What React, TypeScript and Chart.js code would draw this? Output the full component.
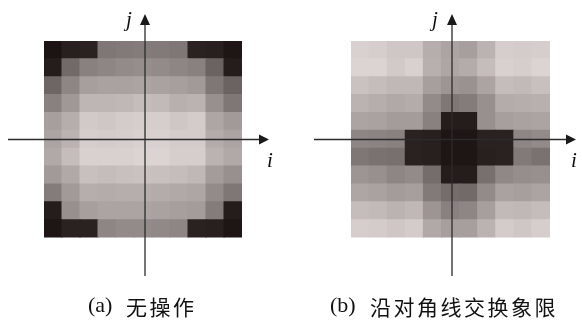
import React, { useEffect, useRef } from "react";
import { Chart, registerables } from "chart.js";

Chart.register(...registerables);

// Column categories (i index) and row labels (j index)
const COLUMNS = ["0", "1", "2", "3", "4", "5", "6", "7", "8", "9", "10"];

// Gray levels (0 = black, 255 = white), rows listed top to bottom
const GRID_A: number[][] = [
  [26, 38, 40, 125, 128, 130, 128, 125, 40, 38, 28],
  [35, 112, 135, 140, 145, 148, 145, 140, 135, 105, 35],
  [108, 140, 165, 168, 168, 170, 168, 165, 160, 125, 105],
  [135, 158, 188, 188, 190, 195, 192, 182, 185, 150, 125],
  [165, 180, 208, 205, 210, 212, 212, 205, 210, 172, 160],
  [170, 185, 212, 210, 212, 215, 215, 210, 210, 178, 170],
  [175, 195, 215, 215, 215, 218, 218, 212, 212, 185, 175],
  [160, 175, 198, 195, 198, 200, 198, 195, 190, 162, 150],
  [130, 160, 180, 178, 180, 180, 178, 175, 172, 145, 125],
  [35, 150, 165, 170, 170, 170, 168, 165, 162, 130, 35],
  [28, 40, 40, 140, 145, 145, 143, 140, 40, 38, 28],
];

const GRID_B: number[][] = [
  [215, 212, 205, 205, 180, 170, 165, 185, 212, 210, 212],
  [218, 218, 208, 215, 182, 172, 178, 195, 215, 212, 218],
  [200, 195, 190, 190, 165, 155, 152, 170, 195, 192, 198],
  [185, 180, 175, 178, 145, 125, 130, 150, 178, 180, 182],
  [170, 168, 162, 162, 135, 35, 35, 150, 165, 168, 170],
  [140, 138, 135, 40, 38, 28, 28, 40, 40, 140, 145],
  [125, 120, 118, 40, 38, 28, 28, 38, 40, 128, 120],
  [155, 150, 140, 145, 115, 35, 35, 118, 142, 148, 150],
  [172, 168, 162, 165, 128, 115, 112, 145, 168, 165, 170],
  [195, 192, 185, 190, 155, 135, 140, 165, 192, 190, 195],
  [212, 210, 205, 210, 175, 165, 165, 185, 210, 205, 212],
];

const CAPTION_A_TAG = "(a)";
const CAPTION_A_TEXT = "无操作";
const CAPTION_B_TAG = "(b)";
const CAPTION_B_TEXT = "沿对角线交换象限";

const clamp = (v: number) => Math.max(0, Math.min(255, Math.round(v)));
const toColor = (v: number) => `rgb(${clamp(v + 2)},${clamp(v - 6)},${clamp(v - 7)})`;

type PanelSpec = {
  grid: number[][];
  padding: { left: number; right: number; top: number; bottom: number };
  vx: number;
  hy: number;
  hx0: number;
  hxTip: number;
  vyTip: number;
  vyEnd: number;
  jx: number;
  ix: number;
  tag: string;
  text: string;
  tagX: number;
  textX: number;
};

const PANELS: PanelSpec[] = [
  {
    grid: GRID_A,
    padding: { left: 44, right: 49, top: 41, bottom: 82.5 },
    vx: 145,
    hy: 139.5,
    hx0: 8,
    hxTip: 269,
    vyTip: 14,
    vyEnd: 276,
    jx: 129,
    ix: 270,
    tag: CAPTION_A_TAG,
    text: CAPTION_A_TEXT,
    tagX: 88,
    textX: 126,
  },
  {
    grid: GRID_B,
    padding: { left: 60, right: 32, top: 41, bottom: 82.5 },
    vx: 161,
    hy: 139.5,
    hx0: 23,
    hxTip: 285,
    vyTip: 14,
    vyEnd: 276,
    jx: 144,
    ix: 283,
    tag: CAPTION_B_TAG,
    text: CAPTION_B_TEXT,
    tagX: 39,
    textX: 79,
  },
];

function Panel({ spec, left }: { spec: PanelSpec; left: number }) {
  const ref = useRef<HTMLCanvasElement | null>(null);
  useEffect(() => {
    if (!ref.current) return;
    const rowsBottomUp = [...spec.grid].reverse();
    const datasets = rowsBottomUp.map((row, r) => ({
      label: `row${r}`,
      data: row.map(() => 1),
      backgroundColor: row.map(toColor),
      borderWidth: 0,
      barPercentage: 1,
      categoryPercentage: 1,
      inflateAmount: 0.5,
    }));

    const overlay = {
      id: "overlay",
      afterDraw(chart: any) {
        const ctx = chart.ctx as CanvasRenderingContext2D;
        ctx.save();
        ctx.strokeStyle = "#2b2b2b";
        ctx.fillStyle = "#1a1a1a";
        ctx.lineWidth = 1.3;
        // horizontal axis
        ctx.beginPath();
        ctx.moveTo(spec.hx0, spec.hy);
        ctx.lineTo(spec.hxTip - 9, spec.hy);
        ctx.stroke();
        ctx.beginPath();
        ctx.moveTo(spec.hxTip, spec.hy);
        ctx.lineTo(spec.hxTip - 10, spec.hy - 5);
        ctx.lineTo(spec.hxTip - 10, spec.hy + 5);
        ctx.closePath();
        ctx.fill();
        // vertical axis
        ctx.beginPath();
        ctx.moveTo(spec.vx, spec.vyEnd);
        ctx.lineTo(spec.vx, spec.vyTip + 9);
        ctx.stroke();
        ctx.beginPath();
        ctx.moveTo(spec.vx, spec.vyTip);
        ctx.lineTo(spec.vx - 5, spec.vyTip + 11);
        ctx.lineTo(spec.vx + 5, spec.vyTip + 11);
        ctx.closePath();
        ctx.fill();
        // axis labels
        ctx.fillStyle = "#111";
        ctx.font = "italic 21px 'Liberation Serif', 'DejaVu Serif', serif";
        ctx.textAlign = "center";
        ctx.textBaseline = "alphabetic";
        ctx.fillText("j", spec.jx, 26);
        ctx.fillText("i", spec.ix, 167);
        // caption
        ctx.textAlign = "left";
        ctx.textBaseline = "middle";
        ctx.font = "22px 'Liberation Serif', serif";
        ctx.fillText(spec.tag, spec.tagX, 306);
        ctx.font = "21px 'Noto Sans CJK SC', sans-serif";
        (ctx as any).letterSpacing = "2.5px";
        ctx.fillText(spec.text, spec.textX, 307);
        ctx.restore();
      },
    };

    const chart = new Chart(ref.current, {
      type: "bar",
      data: { labels: COLUMNS, datasets },
      options: {
        responsive: false,
        animation: false,
        events: [],
        layout: { padding: spec.padding },
        plugins: { legend: { display: false }, tooltip: { enabled: false } },
        scales: {
          x: { display: false, stacked: true, grid: { display: false } },
          y: { display: false, stacked: true, min: 0, max: spec.grid.length, grid: { display: false } },
        },
      },
      plugins: [overlay],
    } as any);
    return () => chart.destroy();
  }, [spec]);

  return (
    <canvas
      ref={ref}
      width={291}
      height={320}
      style={{ position: "absolute", left, top: 0, width: 291, height: 320, display: "block" }}
    />
  );
}

export default function App() {
  return (
    <div style={{ position: "absolute", left: 0, top: 0, width: 582, height: 320, background: "#fff" }}>
      <Panel spec={PANELS[0]} left={0} />
      <Panel spec={PANELS[1]} left={291} />
    </div>
  );
}
